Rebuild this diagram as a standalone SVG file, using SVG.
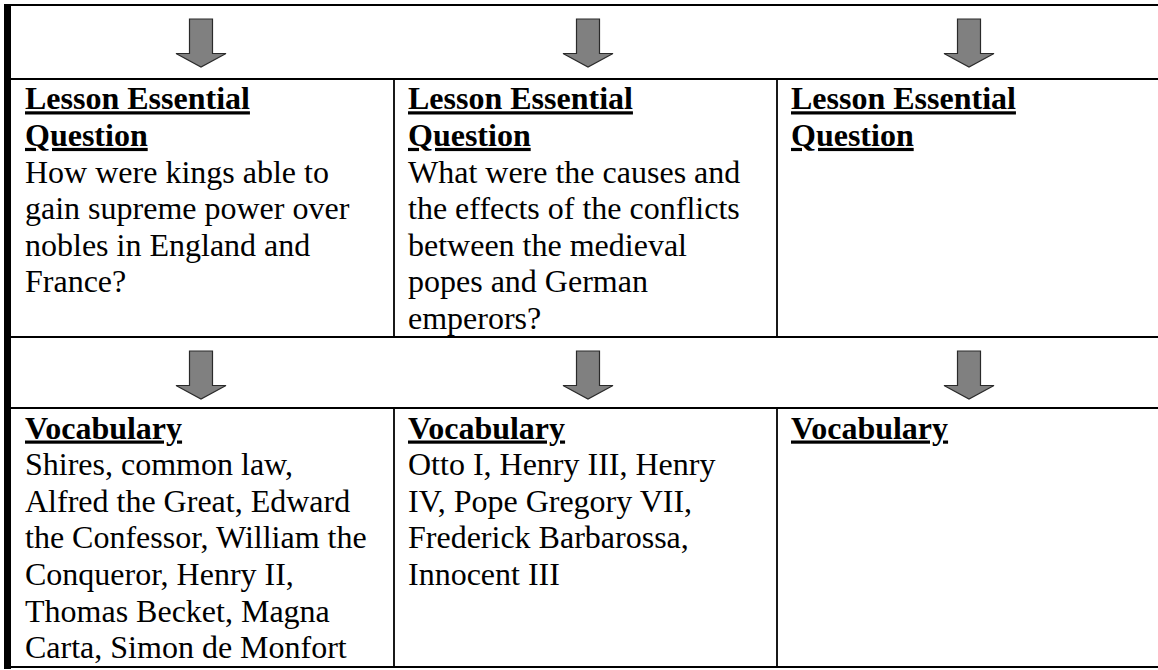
<svg xmlns="http://www.w3.org/2000/svg" xmlns:xlink="http://www.w3.org/1999/xlink" width="1158" height="670" viewBox="0 0 1158 670">
<style>
.t{font-family:"Liberation Serif","Times New Roman",serif;font-size:32px;fill:#000}
.h{font-weight:bold;text-decoration:underline}
.hl{stroke:#000;stroke-width:2.2;fill:none}
.vl{stroke:#000;stroke-width:1.8;fill:none}
.arr{fill:#808080;stroke:#2a2a2a;stroke-width:1.2;stroke-linejoin:miter}
</style>
<defs>
<path id="downArrow" class="arr" d="M-11.5,0 H11.5 V34.5 H25 L0,48 L-25,34.5 H-11.5 Z"/>
</defs>
<rect width="1158" height="670" fill="#fff"/>
<g id="table-frame">
<rect x="4" y="4" width="7" height="665" fill="#000"/>
<line class="hl" x1="4" y1="5" x2="1158" y2="5"/>
<line class="hl" x1="11" y1="79" x2="1158" y2="79"/>
<line class="hl" x1="11" y1="337" x2="1158" y2="337"/>
<line class="hl" x1="11" y1="408" x2="1158" y2="408"/>
<line class="hl" x1="4" y1="667" x2="1158" y2="667"/>
<line class="vl" x1="394" y1="79" x2="394" y2="337"/>
<line class="vl" x1="777" y1="79" x2="777" y2="337"/>
<line class="vl" x1="394" y1="408" x2="394" y2="667"/>
<line class="vl" x1="777" y1="408" x2="777" y2="667"/>
</g>
<g id="connectors">
<use xlink:href="#downArrow" href="#downArrow" x="201" y="19"/>
<use xlink:href="#downArrow" href="#downArrow" x="588" y="19"/>
<use xlink:href="#downArrow" href="#downArrow" x="969" y="19"/>
<use xlink:href="#downArrow" href="#downArrow" x="201" y="351"/>
<use xlink:href="#downArrow" href="#downArrow" x="588" y="351"/>
<use xlink:href="#downArrow" href="#downArrow" x="969" y="351"/>
</g>
<g id="question-1">
<text class="t h" x="25" y="109.3">Lesson Essential</text>
<text class="t h" x="25" y="145.9">Question</text>
<text class="t" x="25" y="182.5">How were kings able to</text>
<text class="t" x="25" y="219.1">gain supreme power over</text>
<text class="t" x="25" y="255.7">nobles in England and</text>
<text class="t" x="25" y="292.3">France?</text>
</g>
<g id="question-2">
<text class="t h" x="408" y="109.3">Lesson Essential</text>
<text class="t h" x="408" y="145.9">Question</text>
<text class="t" x="408" y="182.5">What were the causes and</text>
<text class="t" x="408" y="219.1">the effects of the conflicts</text>
<text class="t" x="408" y="255.7">between the medieval</text>
<text class="t" x="408" y="292.3">popes and German</text>
<text class="t" x="408" y="328.9">emperors?</text>
</g>
<g id="question-3">
<text class="t h" x="791" y="109.3">Lesson Essential</text>
<text class="t h" x="791" y="145.9">Question</text>
</g>
<g id="vocabulary-1">
<text class="t h" x="25" y="438.5">Vocabulary</text>
<text class="t" x="25" y="475.1">Shires, common law,</text>
<text class="t" x="25" y="511.7">Alfred the Great, Edward</text>
<text class="t" x="25" y="548.3">the Confessor, William the</text>
<text class="t" x="25" y="584.9">Conqueror, Henry II,</text>
<text class="t" x="25" y="621.5">Thomas Becket, Magna</text>
<text class="t" x="25" y="658.1">Carta, Simon de Monfort</text>
</g>
<g id="vocabulary-2">
<text class="t h" x="408" y="438.5">Vocabulary</text>
<text class="t" x="408" y="475.1">Otto I, Henry III, Henry</text>
<text class="t" x="408" y="511.7">IV, Pope Gregory VII,</text>
<text class="t" x="408" y="548.3">Frederick Barbarossa,</text>
<text class="t" x="408" y="584.9">Innocent III</text>
</g>
<g id="vocabulary-3">
<text class="t h" x="791" y="438.5">Vocabulary</text>
</g>
</svg>
